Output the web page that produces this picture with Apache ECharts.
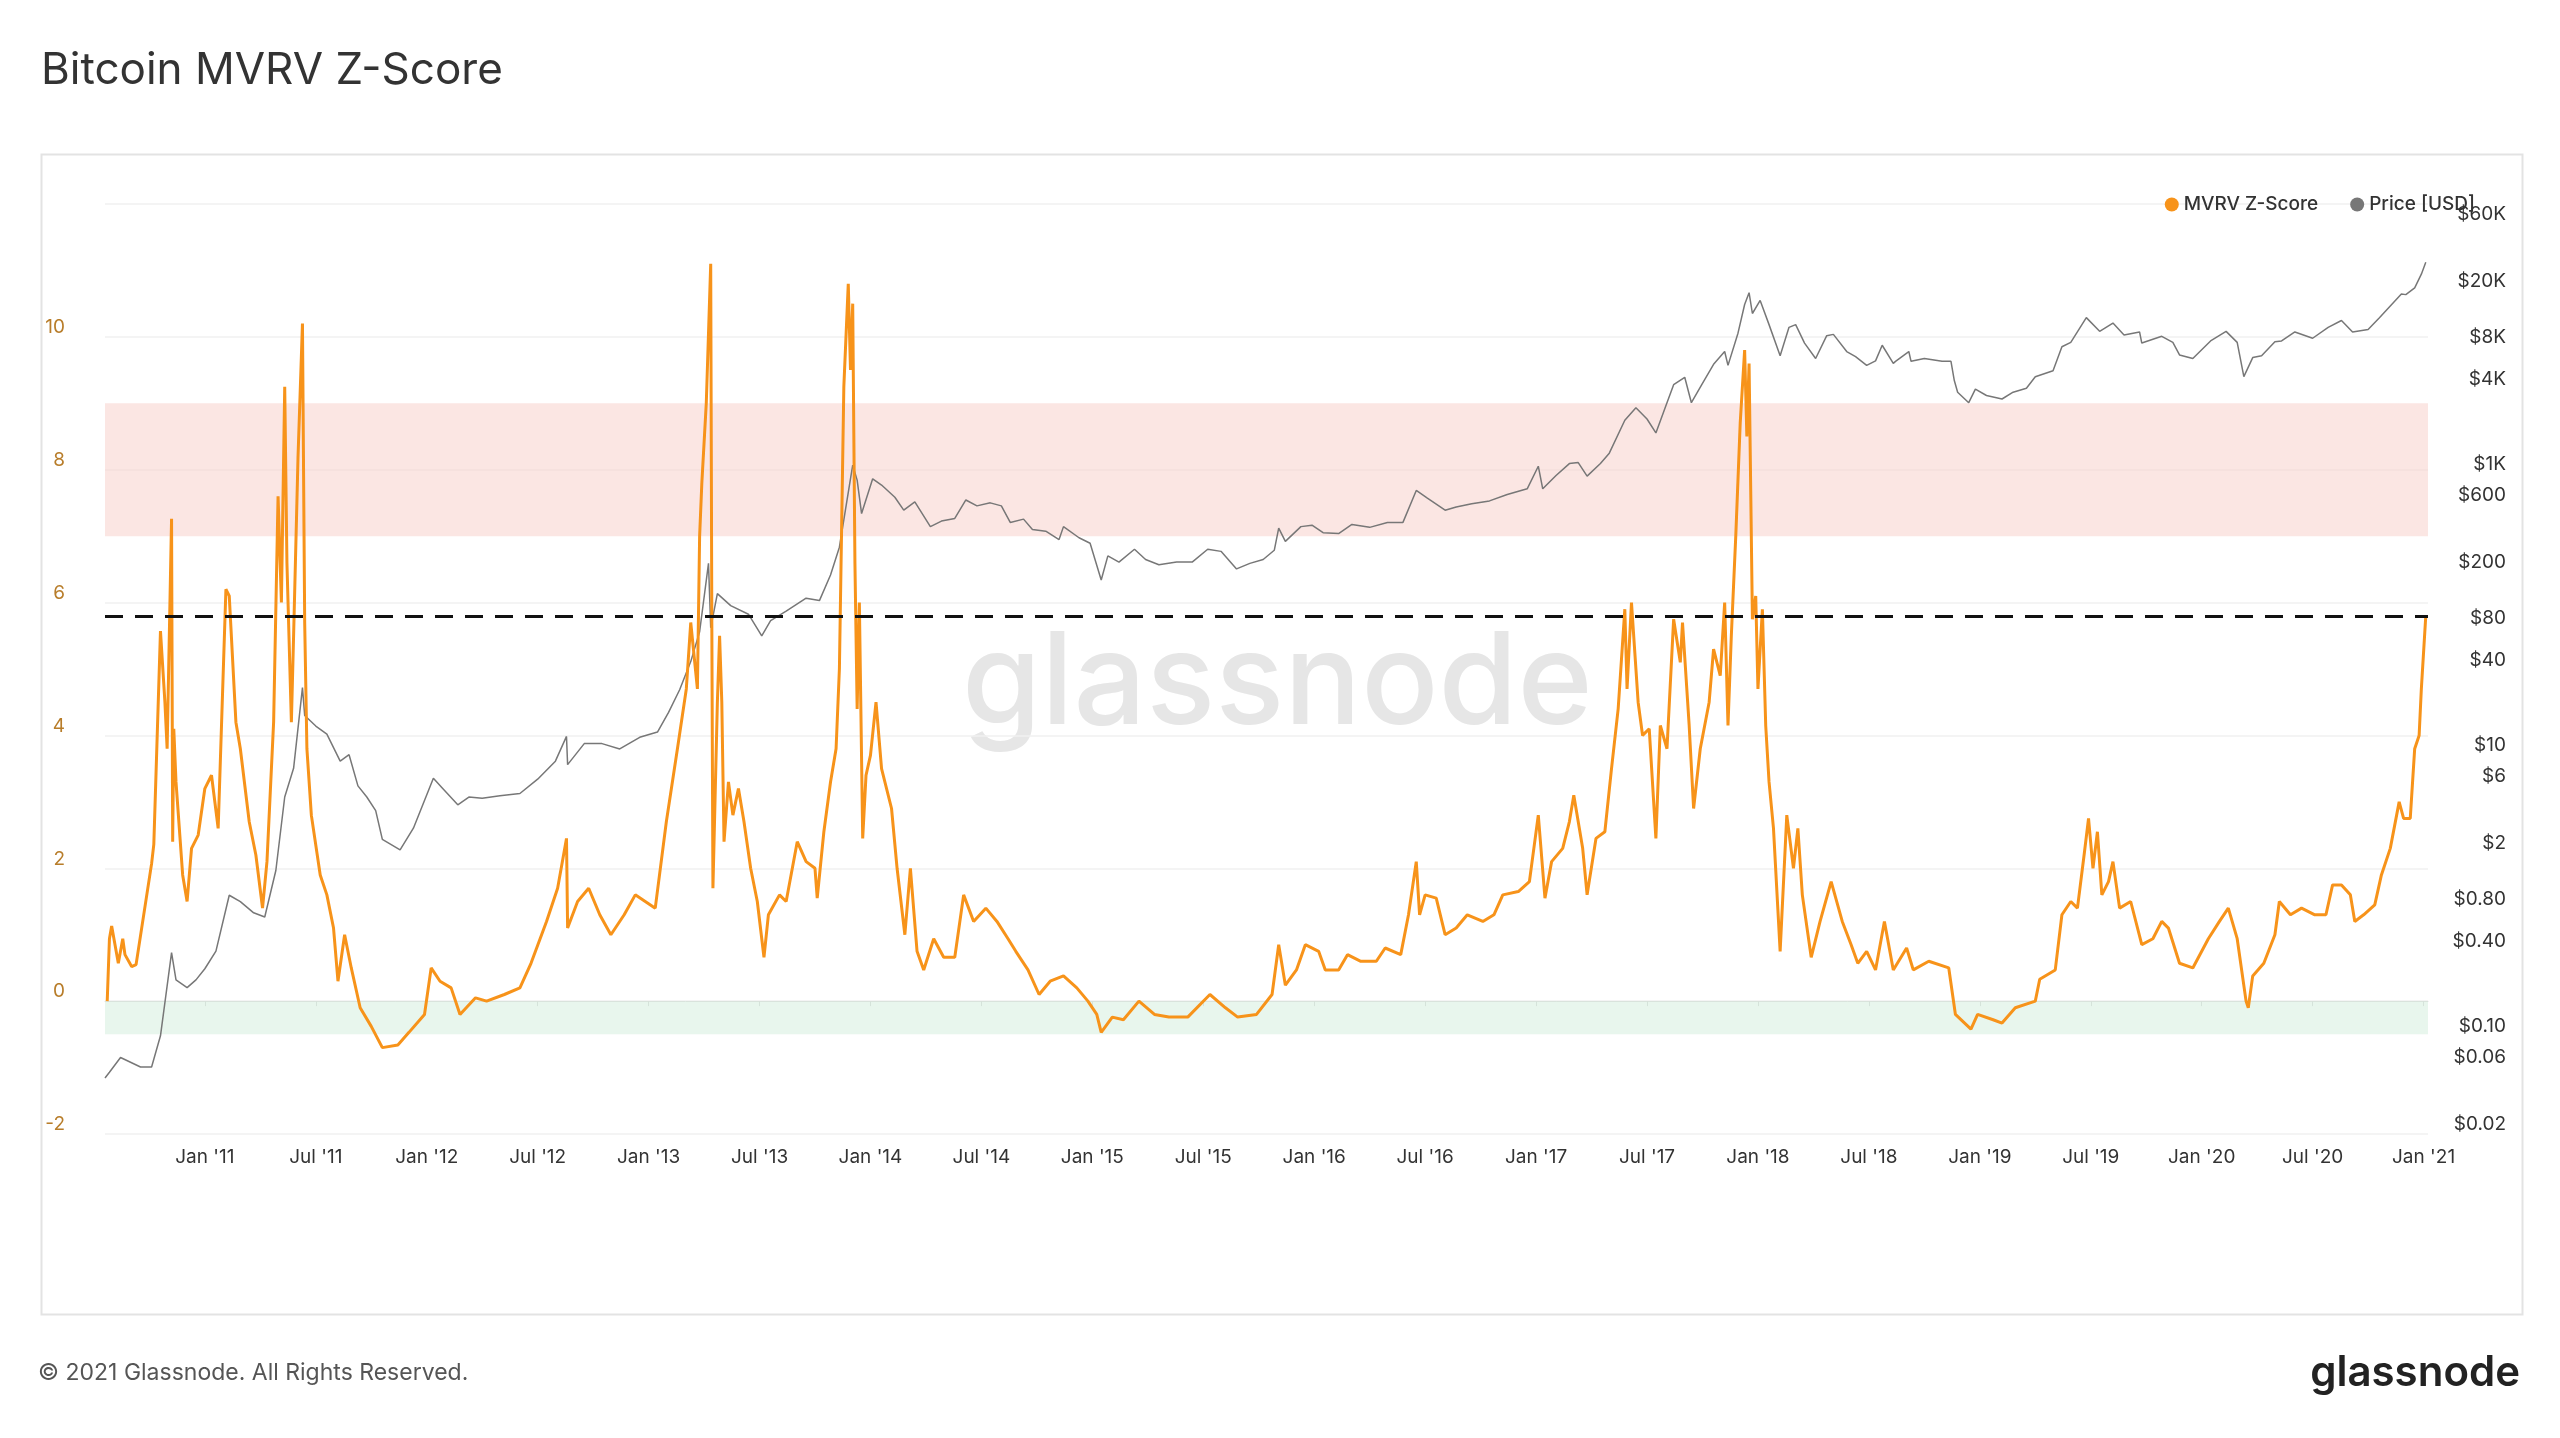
<!DOCTYPE html>
<html><head><meta charset="utf-8">
<script src="https://cdn.jsdelivr.net/npm/echarts@6/dist/echarts.min.js"></script>
<style>html,body{margin:0;padding:0;background:#fff}#c{width:2560px;height:1438px}</style>
</head><body><div id="c"></div>
<script>
const zT = [2010.56,2010.57,2010.58,2010.61,2010.63,2010.64,2010.67,2010.69,2010.76,2010.77,2010.80,2010.82,2010.83,2010.85,2010.855,2010.86,2010.87,2010.90,2010.92,2010.94,2010.97,
2011.0,2011.03,2011.06,2011.095,2011.11,2011.14,2011.16,2011.2,2011.23,2011.26,2011.28,2011.31,2011.33,2011.345,2011.36,2011.37,2011.39,2011.40,2011.42,2011.44,2011.45,2011.46,2011.48,2011.52,2011.55,2011.58,2011.6,2011.63,2011.66,2011.70,2011.75,2011.80,2011.87,2011.92,2011.99,
2012.02,2012.06,2012.11,2012.15,2012.22,2012.27,2012.35,2012.42,2012.47,2012.54,2012.59,2012.63,2012.635,2012.68,2012.73,2012.78,2012.83,2012.89,2012.94,2013.03,2013.08,2013.13,2013.17,2013.19,2013.22,2013.23,
2013.24,2013.26,2013.28,2013.285,2013.29,2013.31,2013.32,2013.33,2013.34,2013.36,2013.38,2013.405,2013.43,2013.46,2013.49,2013.52,2013.54,2013.59,2013.62,2013.67,2013.71,2013.75,2013.76,2013.79,2013.82,2013.845,2013.86,2013.88,2013.90,2013.91,2013.92,2013.93,2013.94,2013.95,2013.965,2013.98,
2014.0,2014.025,2014.05,2014.095,2014.12,2014.155,2014.18,2014.21,2014.24,2014.285,2014.33,2014.38,2014.42,2014.465,2014.52,2014.57,2014.62,2014.655,2014.71,2014.76,2014.81,2014.87,2014.93,2014.98,
2015.02,2015.04,2015.09,2015.14,2015.21,2015.28,2015.345,2015.43,2015.53,2015.6,2015.655,2015.74,2015.81,2015.84,2015.87,2015.92,2015.96,
2016.02,2016.05,2016.11,2016.15,2016.21,2016.28,2016.32,2016.39,2016.425,2016.46,2016.475,2016.5,2016.55,2016.59,2016.64,2016.69,2016.76,2016.81,2016.85,2016.92,2016.97,2016.99,
2017.01,2017.04,2017.07,2017.12,2017.15,2017.17,2017.21,2017.23,2017.27,2017.31,2017.34,2017.37,2017.40,2017.41,2017.43,2017.46,2017.48,2017.51,2017.54,2017.56,2017.59,2017.62,2017.65,2017.66,2017.69,2017.71,2017.74,2017.78,2017.80,2017.83,2017.85,2017.865,2017.88,2017.90,2017.92,2017.94,2017.95,2017.96,2017.975,2017.99,
2018.0,2018.02,2018.035,2018.05,2018.07,2018.10,2018.13,2018.16,2018.18,2018.2,2018.24,2018.28,2018.33,2018.38,2018.42,2018.45,2018.49,2018.53,2018.57,2018.61,2018.67,2018.70,2018.77,2018.86,2018.89,2018.96,2018.99,
2019.06,2019.10,2019.16,2019.25,2019.27,2019.34,2019.37,2019.41,2019.44,2019.47,2019.49,2019.51,2019.53,2019.55,2019.58,2019.60,2019.63,2019.68,2019.73,2019.78,2019.82,2019.85,2019.90,2019.96,
2020.03,2020.08,2020.12,2020.16,2020.2,2020.21,2020.23,2020.28,2020.33,2020.35,2020.40,2020.45,2020.51,2020.56,2020.59,2020.63,2020.67,2020.69,2020.73,2020.78,2020.81,2020.85,2020.89,2020.91,2020.94,2020.96,2020.98,2020.99,2021.01];
const zV = [0,0.94,1.13,0.57,0.94,0.7,0.52,0.55,2.07,2.36,5.57,4.5,3.8,7.26,2.4,4.1,3.3,1.9,1.5,2.3,2.5,
3.2,3.4,2.6,6.2,6.1,4.2,3.8,2.7,2.2,1.4,2.1,4.2,7.6,6.0,9.25,6.6,4.2,5.5,8.2,10.2,5.7,3.8,2.8,1.9,1.6,1.1,0.3,1.0,0.5,-0.1,-0.38,-0.7,-0.66,-0.47,-0.2,
0.5,0.3,0.2,-0.2,0.05,0,0.1,0.2,0.57,1.2,1.7,2.45,1.1,1.5,1.7,1.3,1.0,1.3,1.6,1.4,2.7,3.8,4.7,5.7,4.7,7.0,
7.8,9.0,11.1,5.7,1.7,4.5,5.5,4.5,2.4,3.3,2.8,3.2,2.7,2.0,1.5,0.66,1.3,1.6,1.5,2.4,2.1,2.0,1.55,2.55,3.3,3.8,5.0,9.25,10.8,9.5,10.5,6.6,4.4,6.0,2.45,3.4,
3.7,4.5,3.5,2.9,2.0,1.0,2.0,0.75,0.47,0.94,0.66,0.66,1.6,1.2,1.4,1.2,0.94,0.75,0.47,0.1,0.3,0.38,0.2,0,
-0.2,-0.47,-0.24,-0.28,0,-0.2,-0.24,-0.24,0.1,-0.1,-0.24,-0.2,0.1,0.85,0.24,0.47,0.85,
0.75,0.47,0.47,0.7,0.6,0.6,0.8,0.7,1.3,2.1,1.3,1.6,1.55,1.0,1.1,1.3,1.2,1.3,1.6,1.65,1.8,2.3,
2.8,1.55,2.1,2.3,2.7,3.1,2.3,1.6,2.45,2.55,3.5,4.4,5.9,4.7,6.0,4.5,4.0,4.1,2.45,4.15,3.8,5.75,5.1,5.7,4.15,2.9,3.8,4.5,5.3,4.9,6.0,4.15,5.5,7.0,8.7,9.8,8.5,9.6,5.75,6.1,
4.7,5.9,4.15,3.3,2.6,0.75,2.8,2.0,2.6,1.6,0.66,1.2,1.8,1.2,0.85,0.57,0.75,0.47,1.2,0.47,0.8,0.47,0.6,0.5,-0.2,-0.42,-0.2,
-0.28,-0.33,-0.1,0,0.33,0.47,1.3,1.5,1.4,2.2,2.75,2.0,2.55,1.6,1.8,2.1,1.4,1.5,0.85,0.94,1.2,1.1,0.57,0.5,
0.94,1.2,1.4,0.94,0,-0.1,0.38,0.57,1.0,1.5,1.3,1.4,1.3,1.3,1.75,1.75,1.6,1.2,1.3,1.45,1.9,2.3,3.0,2.75,2.75,3.8,4.0,4.7,5.8];
const priceT = [2010.55,2010.57,2010.62,2010.71,2010.76,2010.80,2010.85,2010.87,2010.92,2010.96,2011.0,2011.05,2011.11,2011.16,2011.22,2011.27,2011.32,2011.36,2011.40,2011.44,2011.45,2011.50,2011.55,2011.61,2011.65,2011.69,2011.73,2011.77,2011.80,2011.88,2011.94,
2012.03,2012.07,2012.14,2012.19,2012.25,2012.33,2012.42,2012.50,2012.58,2012.63,2012.635,2012.71,2012.79,2012.87,2012.96,2013.04,2013.09,2013.14,2013.19,2013.23,2013.27,2013.28,2013.31,2013.37,2013.45,2013.51,2013.55,2013.62,2013.71,2013.77,2013.82,2013.86,2013.92,2013.94,2013.96,
2014.01,2014.05,2014.11,2014.15,2014.20,2014.27,2014.32,2014.38,2014.43,2014.48,2014.54,2014.59,2014.63,2014.69,2014.73,2014.79,2014.85,2014.87,2014.94,2014.99,2015.04,2015.07,2015.12,2015.19,2015.24,2015.30,2015.38,2015.45,2015.52,2015.58,2015.65,2015.71,2015.77,2015.82,2015.84,2015.87,2015.94,2015.99,
2016.04,2016.11,2016.17,2016.25,2016.33,2016.40,2016.46,2016.51,2016.59,2016.64,2016.71,2016.79,2016.87,2016.96,2017.01,2017.03,2017.09,2017.15,2017.19,2017.23,2017.29,2017.33,2017.40,2017.45,2017.50,2017.54,2017.59,2017.62,2017.67,2017.70,2017.75,2017.80,2017.85,2017.865,2017.91,2017.94,2017.96,2017.975,
2018.01,2018.05,2018.10,2018.14,2018.17,2018.21,2018.26,2018.31,2018.34,2018.40,2018.44,2018.49,2018.53,2018.56,2018.61,2018.62,2018.68,2018.69,2018.75,2018.83,2018.87,2018.885,2018.90,2018.95,2018.98,
2019.03,2019.10,2019.15,2019.21,2019.25,2019.33,2019.37,2019.41,2019.48,2019.54,2019.60,2019.65,2019.72,2019.73,2019.82,2019.87,2019.90,2019.96,2020.04,2020.11,2020.16,2020.19,2020.23,2020.27,2020.33,2020.36,2020.42,2020.50,2020.57,2020.63,2020.68,2020.75,2020.80,2020.85,2020.90,2020.92,2020.96,2020.99,2021.01];
const priceV = [0.05,0.055,0.07,0.06,0.06,0.10,0.39,0.25,0.22,0.25,0.30,0.40,1.0,0.9,0.75,0.70,1.5,5.0,8,30,19,16,14,9,10,6,5,4,2.5,2.1,3,
6.8,5.8,4.4,5,4.9,5.1,5.3,6.7,9,13.5,8.5,12,12,11,13.3,14.5,20,29,46,75,230,80,140,115,100,70,90,105,130,125,190,300,1150,900,520,
920,830,680,550,630,420,460,480,650,590,620,590,450,475,400,390,340,420,350,320,175,260,235,290,245,225,235,235,290,280,210,230,245,285,410,330,420,430,
380,375,435,415,450,450,760,670,550,580,610,640,710,780,1130,780,970,1180,1200,960,1180,1400,2400,2950,2450,1950,3200,4300,4850,3200,4400,6000,7400,5900,10000,16000,19400,13800,
17100,11500,6900,11000,11500,8500,6600,9600,9800,7400,6800,5900,6350,8200,6100,6300,7400,6300,6600,6300,6300,4600,3800,3200,4000,
3600,3400,3800,4050,4900,5400,8000,8600,12900,10300,11800,9700,10200,8500,9500,8600,7000,6600,8800,10300,8600,4900,6700,6900,8700,8800,10200,9200,11000,12300,10200,10600,12800,15600,19000,18800,21000,26300,32000];
const xTickValues = [2011,2011.5,2012,2012.5,2013,2013.5,2014,2014.5,2015,2015.5,2016,2016.5,2017,2017.5,2018,2018.5,2019,2019.5,2020,2020.5,2021];
const xTickLabels = ["Jan '11","Jul '11","Jan '12","Jul '12","Jan '13","Jul '13","Jan '14","Jul '14","Jan '15","Jul '15","Jan '16","Jul '16","Jan '17","Jul '17","Jan '18","Jul '18","Jan '19","Jul '19","Jan '20","Jul '20","Jan '21"];
const priceTickValues = [0.02,0.06,0.10,0.40,0.80,2,6,10,40,80,200,600,1000,4000,8000,20000,60000];
const priceTickLabels = ['$0.02','$0.06','$0.10','$0.40','$0.80','$2','$6','$10','$40','$80','$200','$600','$1K','$4K','$8K','$20K','$60K'];
const topBand = [7,9], bottomBand = [-0.5,0], threshold = 5.8;

const chart = echarts.init(document.getElementById('c'));
const F = 'Inter, "Noto Sans", sans-serif';
chart.setOption({
  animation:false,
  textStyle:{fontFamily:F},
  title:{text:'Bitcoin MVRV Z-Score',left:36,top:44,textStyle:{fontSize:44,fontWeight:'normal',color:'#333',fontFamily:F}},
  graphic:[
    {type:'rect',left:39,top:152,shape:{width:2481,height:1160},style:{fill:'none',stroke:'#e3e3e3',lineWidth:2},z:-10},
    {type:'text',left:962,top:622,style:{text:'glassnode',fontSize:128,fontWeight:500,fill:'#e6e6e6',fontFamily:F},z:-5},
    {type:'text',left:38,top:1362,style:{text:'© 2021 Glassnode. All Rights Reserved.',fontSize:23,fill:'#555',fontFamily:F}},
    {type:'text',right:40,top:1352,style:{text:'glassnode',fontSize:42,fontWeight:600,fill:'#222',fontFamily:F}}
  ],
  legend:{right:80,top:190,itemWidth:14,itemHeight:14,itemGap:32,icon:'circle',textStyle:{fontSize:19,color:'#333',fontWeight:500},
    data:[{name:'MVRV Z-Score',itemStyle:{color:'#f7931a'}},{name:'Price [USD]',itemStyle:{color:'#777'}}]},
  grid:{left:105,right:132,top:204,bottom:304},
  xAxis:{type:'value',min:2010.55,max:2021.02,
    axisLine:{lineStyle:{color:'#e0e0e0'}},axisTick:{show:true,lineStyle:{color:'#ddd'},customValues:xTickValues},splitLine:{show:false},
    axisLabel:{customValues:xTickValues,fontSize:19,color:'#333',margin:14,formatter:v=>{const i=xTickValues.findIndex(t=>Math.abs(t-v)<1e-6);return i>=0?xTickLabels[i]:'';}}},
  yAxis:[
    {type:'value',min:-2,max:12,interval:2,position:'left',
     axisLine:{show:false},axisTick:{show:false},
     splitLine:{lineStyle:{color:'#f0f0f0',width:1.5}},
     axisLabel:{fontSize:19,color:'#b87d2a',verticalAlign:'bottom',margin:40,formatter:v=>v===12?'':String(v)}},
    {type:'log',logBase:10,min:0.02,max:83000,position:'right',
     axisLine:{show:false},axisTick:{show:false},splitLine:{show:false},
     axisLabel:{customValues:priceTickValues,fontSize:19,color:'#333',verticalAlign:'bottom',align:'right',margin:78,
       formatter:v=>{const i=priceTickValues.findIndex(t=>Math.abs(t-v)/t<1e-6);return i>=0?priceTickLabels[i]:'';}}}
  ],
  series:[
    {name:'Price [USD]',type:'line',yAxisIndex:1,showSymbol:false,data:priceT.map((t,i)=>[t,priceV[i]]),
     lineStyle:{color:'#777',width:1.5},itemStyle:{color:'#777'},z:3},
    {name:'MVRV Z-Score',type:'line',yAxisIndex:0,showSymbol:false,data:zT.map((t,i)=>[t,zV[i]]),
     lineStyle:{color:'#f7931a',width:3},itemStyle:{color:'#f7931a'},z:4,
     markArea:{silent:true,data:[
       [{yAxis:topBand[0],itemStyle:{color:'rgba(248,205,200,0.5)'}},{yAxis:topBand[1]}],
       [{yAxis:bottomBand[0],itemStyle:{color:'rgba(205,235,215,0.45)'}},{yAxis:bottomBand[1]}]]},
     markLine:{silent:true,symbol:'none',label:{show:false},lineStyle:{color:'#111',type:[18,12],width:3},data:[{yAxis:threshold}]}}
  ]
});
</script></body></html>
